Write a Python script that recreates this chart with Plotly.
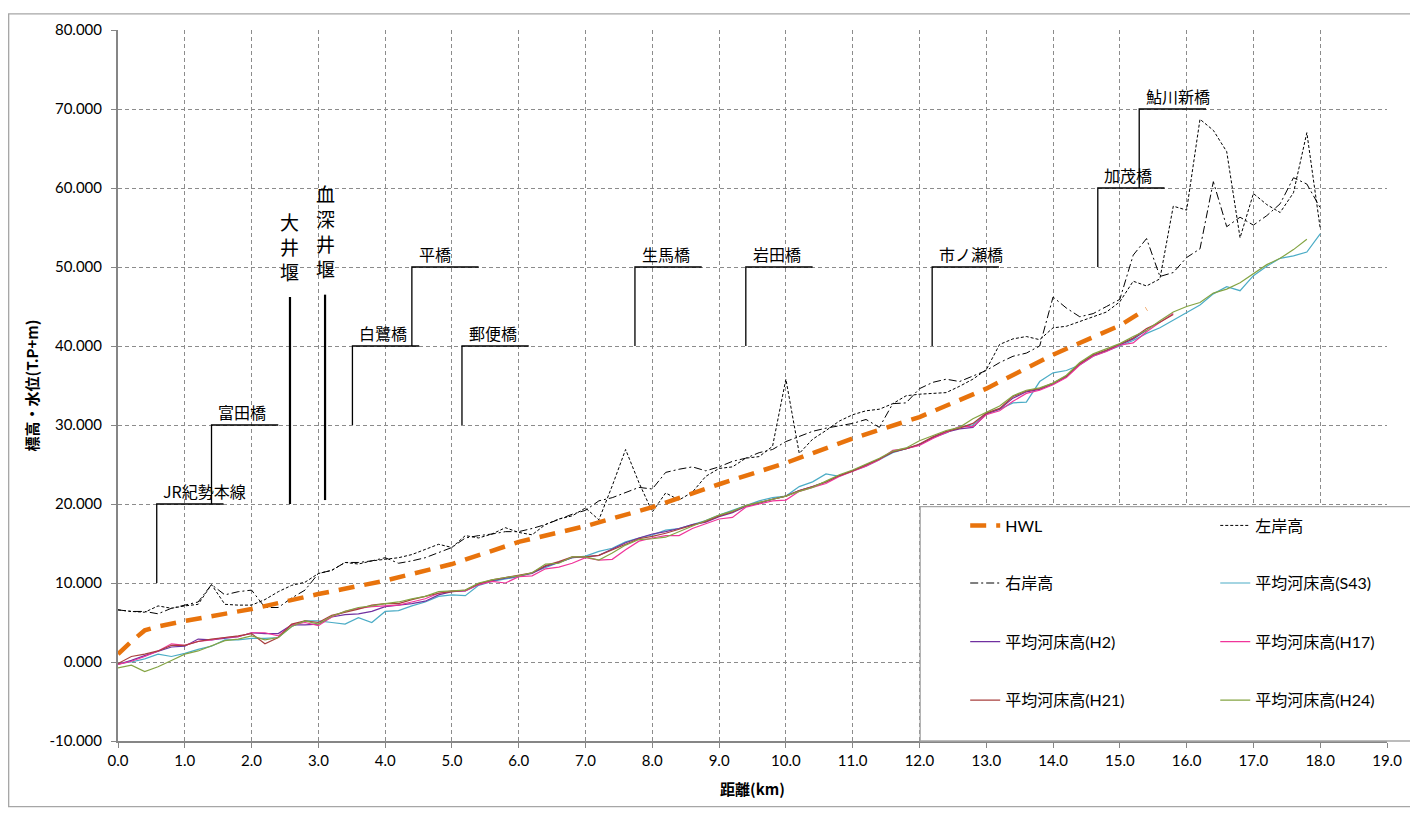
import plotly.graph_objects as go

# ---------------- data ----------------
distance_km = [0.0, 0.2, 0.4, 0.6, 0.8, 1.0, 1.2, 1.4, 1.6, 1.8,
               2.0, 2.2, 2.4, 2.6, 2.8, 3.0, 3.2, 3.4, 3.6, 3.8,
               4.0, 4.2, 4.4, 4.6, 4.8, 5.0, 5.2, 5.4, 5.6, 5.8,
               6.0, 6.2, 6.4, 6.6, 6.8, 7.0, 7.2, 7.4, 7.6, 7.8,
               8.0, 8.2, 8.4, 8.6, 8.8, 9.0, 9.2, 9.4, 9.6, 9.8,
               10.0, 10.2, 10.4, 10.6, 10.8, 11.0, 11.2, 11.4, 11.6, 11.8,
               12.0, 12.2, 12.4, 12.6, 12.8, 13.0, 13.2, 13.4, 13.6, 13.8,
               14.0, 14.2, 14.4, 14.6, 14.8, 15.0, 15.2, 15.4, 15.6, 15.8,
               16.0, 16.2, 16.4, 16.6, 16.8, 17.0, 17.2, 17.4, 17.6, 17.8,
               18.0]

left_bank = [6.6, 6.4, 6.3, 7.1, 6.8, 7.1, 7.3, 9.8, 7.3, 7.2,
             7.2, 7.9, 8.9, 9.7, 10.1, 11.2, 11.6, 12.6, 12.4, 12.8,
             13.0, 13.2, 13.6, 14.3, 14.9, 14.5, 16.0, 15.7, 16.2, 17.0,
             16.4, 16.1, 17.4, 18.1, 18.5, 19.5, 18.0, 22.3, 26.9, 22.7,
             19.0, 21.4, 20.5, 21.5, 23.5, 24.5, 24.7, 25.8, 26.0, 27.3,
             35.8, 26.4, 28.2, 29.3, 30.5, 31.3, 31.8, 32.0, 32.7, 33.7,
             33.9, 34.0, 34.1, 34.9, 35.8, 37.0, 40.2, 40.9, 41.2, 40.8,
             42.3, 42.5, 43.1, 43.7, 44.3, 45.6, 48.2, 47.6, 48.5, 57.7,
             57.2, 68.7, 67.3, 64.6, 53.7, 59.3, 57.9, 56.9, 59.4, 67.0,
             54.9]

right_bank = [6.6, 6.4, 6.4, 6.1, 6.8, 7.2, 7.6, 9.8, 8.5, 8.9,
              9.1, 6.9, 6.9, 8.1, 9.1, 11.2, 11.6, 12.6, 12.6, 12.8,
              13.2, 12.5, 12.8, 13.2, 13.8, 14.5, 15.7, 16.0, 16.2, 16.5,
              16.5, 16.9, 17.4, 18.1, 18.7, 19.2, 20.4, 20.8, 21.5, 22.1,
              21.9, 24.0, 24.4, 24.7, 24.2, 24.7, 25.4, 25.8, 26.5, 26.9,
              27.9, 28.6, 29.2, 29.6, 29.9, 30.2, 30.7, 29.7, 32.7, 32.8,
              34.6, 35.4, 35.8, 35.5, 36.2, 36.9, 37.9, 38.7, 39.1, 40.0,
              46.2, 44.8, 43.7, 44.1, 45.0, 45.9, 51.5, 53.6, 48.8, 49.3,
              51.2, 52.3, 60.8, 55.1, 56.3, 55.3, 56.5, 58.0, 61.3, 60.5,
              57.5]

hwl_km = [0.0, 0.2, 0.4, 0.6, 1.0, 2.0, 3.0, 4.0, 5.0, 6.0, 7.0, 8.0,
          9.0, 10.0, 11.0, 12.0, 13.0, 14.0, 15.0, 15.4]
hwl = [1.0, 2.6, 4.0, 4.5, 5.2, 6.7, 8.6, 10.3, 12.4, 15.2, 17.2, 19.6,
       22.5, 25.2, 28.3, 31.0, 34.6, 38.9, 42.6, 44.7]

bed_s43 = [-0.2, 0.0, 0.4, 1.0, 0.7, 1.1, 1.6, 2.0, 2.8, 2.8,
           3.0, 3.0, 3.1, 4.5, 5.2, 5.2, 5.0, 4.8, 5.6, 5.0,
           6.4, 6.5, 7.1, 7.6, 8.3, 8.5, 8.4, 9.7, 10.2, 10.5,
           10.8, 11.3, 12.0, 12.6, 13.2, 13.4, 14.0, 14.4, 15.2, 15.7,
           16.1, 16.7, 16.9, 17.4, 17.9, 18.6, 19.2, 19.9, 20.4, 20.8,
           21.0, 22.2, 22.8, 23.8, 23.5, 24.2, 24.8, 25.6, 26.5, 27.0,
           27.5, 28.4, 29.0, 29.8, 30.0, 31.4, 32.0, 32.8, 32.9, 35.5,
           36.6, 36.9, 37.6, 38.7, 39.3, 40.0, 40.7, 41.6, 42.3, 43.3,
           44.3, 45.2, 46.6, 47.5, 47.0, 48.9, 50.1, 51.1, 51.4, 51.9,
           54.2]

bed_h2 = [-0.3, 0.2, 0.8, 1.4, 1.9, 2.0, 2.9, 2.8, 3.0, 3.2,
          3.7, 3.6, 3.6, 4.7, 4.7, 4.8, 5.7, 6.0, 6.1, 6.4,
          7.0, 7.2, 7.4, 7.7, 8.5, 8.9, 9.0, 9.8, 10.3, 10.6,
          10.9, 11.2, 12.1, 12.6, 13.2, 13.3, 13.5, 14.3, 15.1, 15.7,
          16.2, 16.5, 16.9, 17.4, 17.7, 18.4, 18.9, 19.7, 20.1, 20.6,
          21.0, 21.7, 22.2, 22.8, 23.6, 24.2, 24.9, 25.7, 26.6, 27.0,
          27.5, 28.4, 29.1, 29.5, 29.7, 31.4, 32.0, 33.4, 34.2, 34.5,
          35.2, 36.1, 37.7, 38.8, 39.4, 40.2, 40.9, 42.0]

bed_h17 = [-0.3, 0.1, 0.7, 1.4, 2.3, 2.1, 2.6, 2.8, 3.1, 3.2,
           3.7, 3.7, 3.3, 4.7, 5.0, 4.6, 5.7, 6.4, 6.8, 7.0,
           7.1, 7.2, 7.6, 8.0, 8.7, 9.0, 9.0, 9.8, 10.2, 10.0,
           10.8, 10.9, 11.8, 12.0, 12.5, 13.2, 12.9, 13.0, 14.2, 15.3,
           15.7, 16.0, 16.0, 16.9, 17.5, 18.1, 18.3, 19.6, 20.0, 20.4,
           20.5, 21.6, 22.1, 22.6, 23.5, 24.1, 24.8, 25.6, 26.8, 27.0,
           27.4, 28.3, 29.0, 29.8, 29.8, 31.3, 31.8, 33.0, 34.0, 34.4,
           35.1, 36.0, 37.6, 38.7, 39.3, 40.1, 40.4, 41.8, 43.0, 44.1]

bed_h21 = [-0.2, 0.7, 1.0, 1.4, 2.1, 2.1, 2.6, 2.9, 3.1, 3.3,
           3.6, 2.3, 3.1, 4.8, 5.2, 5.0, 5.9, 6.3, 6.7, 7.2,
           7.4, 7.4, 7.9, 8.3, 8.7, 8.9, 9.1, 9.9, 10.4, 10.7,
           11.0, 11.3, 12.2, 12.7, 13.3, 13.3, 13.5, 14.2, 15.0, 15.6,
           15.9, 16.3, 16.8, 17.3, 17.8, 18.5, 19.0, 19.8, 20.2, 20.6,
           21.0, 21.7, 22.2, 22.8, 23.6, 24.2, 24.9, 25.7, 26.6, 27.0,
           27.6, 28.5, 29.2, 29.6, 30.2, 31.5, 32.1, 33.6, 34.3, 34.6,
           35.3, 36.2, 37.8, 38.9, 39.5, 40.3, 41.0, 42.2, 43.0, 44.0]

bed_h24 = [-0.75, -0.4, -1.2, -0.6, 0.2, 1.0, 1.4, 2.0, 2.7, 2.9,
           3.3, 2.8, 3.1, 4.5, 5.2, 4.8, 5.8, 6.4, 6.9, 7.1,
           7.4, 7.6, 8.0, 8.3, 8.9, 9.0, 9.1, 10.0, 10.4, 10.7,
           10.9, 11.3, 12.4, 12.5, 13.3, 13.3, 12.9, 13.8, 14.8, 15.5,
           15.6, 15.8, 16.5, 17.3, 18.0, 18.6, 19.1, 19.8, 20.2, 20.6,
           21.0, 21.6, 22.1, 22.9, 23.7, 24.3, 25.0, 25.8, 26.7, 27.1,
           28.0, 28.6, 29.3, 29.7, 30.8, 31.6, 32.4, 33.7, 34.4, 34.7,
           35.3, 36.3, 37.9, 39.0, 39.6, 40.3, 41.2, 42.0, 43.2, 44.3,
           45.0, 45.5, 46.7, 47.2, 48.0, 49.1, 50.3, 51.1, 52.2, 53.5]

# bridges: name, position (km), lower / upper elevation of the leader line
bridge_names = ["JR紀勢本線", "富田橋", "白鷺橋", "平橋", "郵便橋", "生馬橋",
                "岩田橋", "市ノ瀬橋", "加茂橋", "鮎川新橋"]
bridge_km = [0.58, 1.40, 3.51, 4.40, 5.15, 7.74, 9.40, 12.19, 14.67, 15.29]
bridge_low = [10, 20, 30, 40, 30, 40, 40, 40, 50, 60]
bridge_high = [20, 30, 40, 50, 40, 50, 50, 50, 60, 70]
bridge_span = 1.0

# weirs: name, position (km), lower / upper elevation of the marker line
weir_names = ["大井堰", "血深井堰"]
weir_km = [2.575, 3.10]
weir_low = [20.0, 20.5]
weir_high = [46.2, 46.5]
weir_label_y = [52.6, 54.6]

x_ticks = [float(v) for v in range(0, 20)]
x_tick_labels = ["%.1f" % v for v in x_ticks]
y_ticks = [-10, 0, 10, 20, 30, 40, 50, 60, 70, 80]
y_tick_labels = ["-10.000", "0.000", "10.000", "20.000", "30.000", "40.000",
                 "50.000", "60.000", "70.000", "80.000"]

# ---------------- figure ----------------
FONT = "Lato, 'Noto Sans CJK JP', sans-serif"
JP = "'Noto Sans CJK JP', sans-serif"

fig = go.Figure()

for name, bx, lo, hi in zip(bridge_names, bridge_km, bridge_low, bridge_high):
    fig.add_trace(go.Scatter(x=[bx, bx, bx + bridge_span], y=[lo, hi, hi],
                             mode="lines", line=dict(color="black", width=1.3),
                             showlegend=False, hoverinfo="skip"))
    fig.add_annotation(x=bx + 0.07, y=hi, text=name, showarrow=False,
                       xanchor="left", yanchor="bottom", yshift=-1,
                       font=dict(family=JP, size=16, color="black"))

CHAR_STEP = 25  # px between stacked characters
for name, wx, lo, hi, ly in zip(weir_names, weir_km, weir_low, weir_high, weir_label_y):
    fig.add_trace(go.Scatter(x=[wx, wx], y=[lo, hi], mode="lines",
                             line=dict(color="black", width=2.2),
                             showlegend=False, hoverinfo="skip"))
    n = len(name)
    for k, ch in enumerate(name):
        fig.add_annotation(x=wx, y=ly, text=ch, showarrow=False,
                           xanchor="center", yanchor="middle",
                           yshift=((n - 1) / 2 - k) * CHAR_STEP,
                           font=dict(family=JP, size=19, color="black"))

series = [
    ("HWL", hwl_km, hwl, dict(color="#E8730C", width=4.5, dash="16px,10px")),
    ("左岸高", distance_km, left_bank, dict(color="black", width=1, dash="3px,2px")),
    ("右岸高", distance_km, right_bank, dict(color="black", width=1, dash="8px,3px,2px,3px")),
    ("平均河床高(S43)", distance_km, bed_s43, dict(color="#4BACC6", width=1.2)),
    ("平均河床高(H2)", distance_km[:len(bed_h2)], bed_h2, dict(color="#7030A0", width=1.2)),
    ("平均河床高(H17)", distance_km[:len(bed_h17)], bed_h17, dict(color="#F0359A", width=1.2)),
    ("平均河床高(H21)", distance_km[:len(bed_h21)], bed_h21, dict(color="#A8403E", width=1.2)),
    ("平均河床高(H24)", distance_km[:len(bed_h24)], bed_h24, dict(color="#84A443", width=1.2)),
]
legend_ids = ["legend", "legend2", "legend3", "legend4",
              "legend5", "legend6", "legend7", "legend8"]

draw_order = [3, 4, 5, 6, 7, 1, 2, 0]
for i in draw_order:
    name, xs, ys, ln = series[i]
    fig.add_trace(go.Scatter(x=xs, y=ys, mode="lines", name=name, line=ln,
                             legend=legend_ids[i], hoverinfo="skip"))

# Page body has an 8px margin: figure occupies screen x 8..1418, y 8..808.
# plot area in screen coords: x 118..1386.7, y 25..741
PW, PH = 1268.7, 716.0
def px(xs):
    return (xs - 118) / PW
def py(ys):
    return (741 - ys) / PH

row_y = [524, 582, 641, 700]
col_x = [965, 1215]
legend_layout = {}
for i, lid in enumerate(legend_ids):
    col = i % 2
    row = i // 2
    legend_layout[lid] = dict(orientation="v", xanchor="left", yanchor="middle",
                              x=px(col_x[col]), y=py(row_y[row]),
                              bgcolor="rgba(0,0,0,0)", borderwidth=0,
                              font=dict(family=FONT, size=16, color="black"))

fig.update_layout(
    width=1410, height=800,
    margin=dict(l=110, r=31.3, t=17, b=67),
    paper_bgcolor="white", plot_bgcolor="white",
    font=dict(family=FONT, size=15, color="black"),
    xaxis=dict(range=[0, 19], tickvals=x_ticks, ticktext=x_tick_labels,
               showgrid=True, gridcolor="#8C8C8C", griddash="4px,3px", gridwidth=1,
               showline=True, linecolor="#868686", linewidth=2,
               ticks="outside", ticklen=5, tickcolor="#868686", tickwidth=1,
               zeroline=False, tickfont=dict(size=15),
               title=dict(text="<b>距離(km)</b>", font=dict(family=JP, size=15), standoff=16)),
    yaxis=dict(range=[-10, 80], tickvals=y_ticks, ticktext=y_tick_labels,
               showgrid=True, gridcolor="#8C8C8C", griddash="4px,3px", gridwidth=1,
               showline=True, linecolor="#868686", linewidth=2,
               ticks="outside", ticklen=5, tickcolor="#868686", tickwidth=1,
               ticklabelstandoff=6,
               zeroline=False, tickfont=dict(size=15),
               title=dict(text="<b>標高・水位(T.P+m)</b>", font=dict(family=JP, size=15), standoff=7)),
    **legend_layout,
)

# legend frame (white box in lower right)
fig.add_shape(type="rect", xref="paper", yref="paper",
              x0=px(920), x1=px(1416), y0=py(741), y1=py(505),
              line=dict(color="#A6A6A6", width=1.3), fillcolor="white", layer="above")
# chart outer border
fig.add_shape(type="rect", xref="paper", yref="paper",
              x0=px(8.7), x1=px(1416), y0=py(807), y1=py(8.7),
              line=dict(color="#A6A6A6", width=1.3), fillcolor="rgba(0,0,0,0)", layer="below")

fig.write_html("out.html")
